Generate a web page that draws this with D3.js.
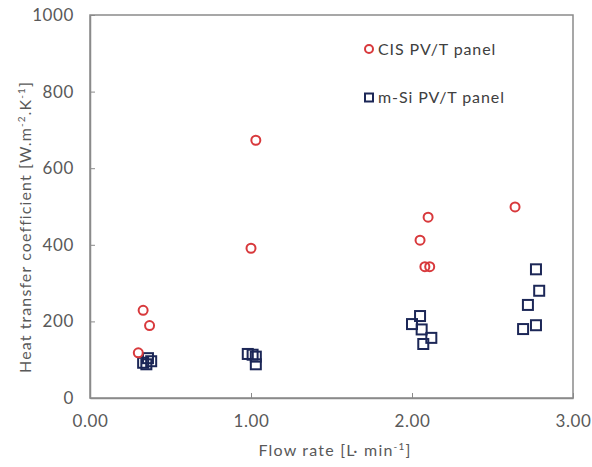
<!DOCTYPE html>
<html>
<head>
<meta charset="utf-8">
<script src="https://cdn.jsdelivr.net/npm/d3@7"></script>
<style>
  body { margin: 0; background: #fff; }
  text { font-family: Lato, "Open Sans", sans-serif; }
</style>
</head>
<body>
<div id="chart"></div>
<script>
// values
const cisFlow = [0.33, 0.37, 0.30, 1.00, 1.03, 2.05, 2.10, 2.08, 2.11, 2.64];
const cisH    = [229, 189, 118, 391, 673, 412, 472, 343, 343, 499];
const msiFlow = [0.33, 0.36, 0.38, 0.35, 0.98, 1.01, 1.03, 1.03, 2.05, 2.00, 2.06, 2.12, 2.07, 2.77, 2.79, 2.72, 2.77, 2.69];
const msiH    = [92, 104, 96, 88, 115, 113, 108, 88, 214, 193, 179, 157, 141, 336, 280, 243, 190, 180];
const xTicks = [0, 1, 2, 3];
const yTicks = [0, 200, 400, 600, 800, 1000];

const W = 592, H = 467;
const m = { left: 90, right: 19, top: 15, bottom: 69 };

const svg = d3.select("#chart").append("svg")
  .attr("width", W).attr("height", H);

const x = d3.scaleLinear().domain([0, 3]).range([m.left, W - m.right]);
const y = d3.scaleLinear().domain([0, 1000]).range([H - m.bottom, m.top]);

// frame
svg.append("rect")
  .attr("x", x(0)).attr("y", y(1000))
  .attr("width", x(3) - x(0)).attr("height", y(0) - y(1000))
  .attr("fill", "none").attr("stroke", "#8a8a8a").attr("stroke-width", 1.5);

// axes, ticks pointing inward
const xAxis = svg.append("g")
  .attr("transform", `translate(0,${y(0)})`)
  .call(d3.axisBottom(x).tickValues(xTicks).tickFormat(d3.format(".2f")).tickSizeInner(-5).tickSizeOuter(0).tickPadding(17));
const yAxis = svg.append("g")
  .attr("transform", `translate(${x(0)},0)`)
  .call(d3.axisLeft(y).tickValues(yTicks).tickFormat(d3.format("d")).tickSizeInner(-5).tickSizeOuter(0).tickPadding(16));

[xAxis, yAxis].forEach(g => {
  g.select(".domain").attr("stroke", "#8a8a8a").attr("stroke-width", 1.5);
  g.selectAll(".tick line").attr("stroke", "#8a8a8a");
  g.selectAll(".tick text").attr("fill", "#595959")
    .style("font-size", "17px").style("letter-spacing", "0.6px");
});

// axis titles
svg.append("text")
  .attr("x", 335).attr("y", 456)
  .attr("text-anchor", "middle").attr("fill", "#595959")
  .style("font-size", "16px").style("letter-spacing", "1.2px")
  .html('Flow rate [L· min<tspan dy="-6" font-size="10">-1</tspan><tspan dy="6">]</tspan>');

svg.append("text")
  .attr("transform", "translate(31,227) rotate(-90)")
  .attr("text-anchor", "middle").attr("fill", "#595959")
  .style("font-size", "16px").style("letter-spacing", "1.1px")
  .html('Heat transfer coefficient [W.m<tspan dy="-6" font-size="10">-2</tspan><tspan dy="6">.K</tspan><tspan dy="-6" font-size="10">-1</tspan><tspan dy="6">]</tspan>');

const red = "#d8393c", navy = "#1c2757";

// m-Si squares
svg.append("g").selectAll("rect")
  .data(msiFlow.map((f, i) => [f, msiH[i]]))
  .join("rect")
  .attr("x", d => x(d[0]) - 5).attr("y", d => y(d[1]) - 5)
  .attr("width", 10).attr("height", 10)
  .attr("fill", "none").attr("stroke", navy).attr("stroke-width", 2);

// CIS circles
svg.append("g").selectAll("circle")
  .data(cisFlow.map((f, i) => [f, cisH[i]]))
  .join("circle")
  .attr("cx", d => x(d[0])).attr("cy", d => y(d[1]))
  .attr("r", 4.5)
  .attr("fill", "none").attr("stroke", red).attr("stroke-width", 2);

// legend
const leg = svg.append("g").attr("transform", "translate(369,0)");
leg.append("circle").attr("cx", 0).attr("cy", 49).attr("r", 4)
  .attr("fill", "none").attr("stroke", red).attr("stroke-width", 2);
leg.append("text").attr("x", 9).attr("y", 55).attr("fill", "#404040")
  .style("font-size", "16px").style("letter-spacing", "0.9px").text("CIS PV/T panel");
leg.append("rect").attr("x", -4).attr("y", 93.5).attr("width", 8).attr("height", 8)
  .attr("fill", "none").attr("stroke", navy).attr("stroke-width", 2);
leg.append("text").attr("x", 9).attr("y", 103).attr("fill", "#404040")
  .style("font-size", "16px").style("letter-spacing", "0.9px").text("m-Si PV/T panel");
</script>
</body>
</html>
